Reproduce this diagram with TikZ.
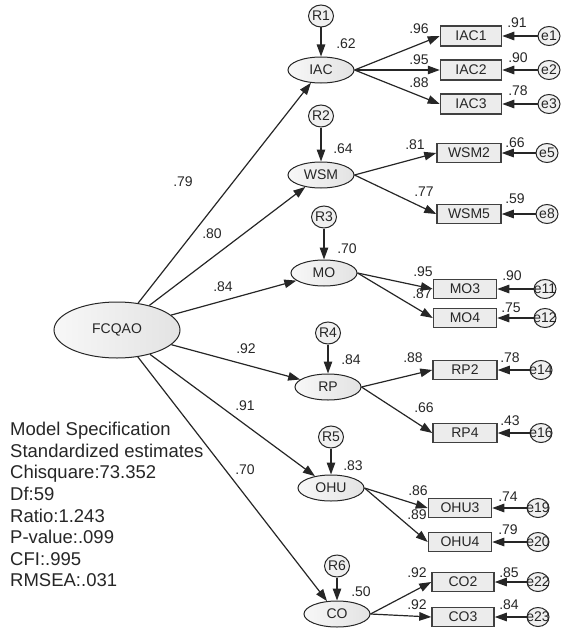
\documentclass[tikz,border=0pt]{standalone}
\usepackage{fontspec}
\setmainfont{Liberation Sans}
\usetikzlibrary{shapes.geometric,arrows.meta}
% text of fixed-size circles may overflow the circle
\newcommand\circtxt[1]{\makebox[0pt]{#1}}
\begin{document}
\begin{tikzpicture}[x=1pt,y=-1pt,
  every node/.style={text=black!85, font=\fontsize{14}{16}\selectfont},
  lat/.style={ellipse, draw=black!85, line width=1pt, left color=gray!6, right color=gray!22,
    minimum width=66pt, minimum height=26pt, inner sep=0pt},
  obs/.style={rectangle, draw=black!75, line width=1.5pt, fill=gray!15,
    minimum width=63pt, minimum height=19pt, inner sep=0pt},
  res/.style={ellipse, draw=black!85, line width=1pt, fill=gray!12,
    minimum width=25pt, minimum height=22pt, inner sep=0pt},
  err/.style={ellipse, draw=black!85, line width=1pt, fill=gray!12,
    minimum width=22pt, minimum height=19pt, inner sep=0pt},
  arr/.style={draw=black!85, line width=1.2pt, -{Triangle[length=12pt,width=8.5pt]}},
  coef/.style={inner sep=0pt}
]
\useasboundingbox (0,0) rectangle (560,634);

% second-order factor
\node[lat, minimum width=126pt, minimum height=56pt] (FCQAO) at (117,330) {FCQAO};

% first-order factors with their disturbances
\node[lat] (IAC) at (321,70) {IAC};
\node[res] (R1) at (321,16) {\circtxt{R1}};
\node[lat] (WSM) at (321,175) {WSM};
\node[res] (R2) at (321,116) {\circtxt{R2}};
\node[lat] (MO) at (324,273) {MO};
\node[res] (R3) at (324,217) {\circtxt{R3}};
\node[lat] (RP) at (328,387) {RP};
\node[res] (R4) at (328,333) {\circtxt{R4}};
\node[lat] (OHU) at (331,488) {OHU};
\node[res] (R5) at (331,437) {\circtxt{R5}};
\node[lat] (CO) at (337,614) {CO};
\node[res] (R6) at (337,566) {\circtxt{R6}};

% indicators
\node[obs, minimum width=61pt, minimum height=20pt] (IAC1) at (471,36) {IAC1};
\node[obs, minimum width=61pt, minimum height=20pt] (IAC2) at (471,70) {IAC2};
\node[obs, minimum width=61pt, minimum height=20pt] (IAC3) at (471,104) {IAC3};
\node[obs, minimum width=64pt] (WSM2) at (469,153) {WSM2};
\node[obs, minimum width=64pt] (WSM5) at (469,214) {WSM5};
\node[obs] (MO3) at (465,289) {MO3};
\node[obs] (MO4) at (465,318) {MO4};
\node[obs, minimum width=64pt] (RP2) at (465,370) {RP2};
\node[obs, minimum width=64pt] (RP4) at (465,433) {RP4};
\node[obs] (OHU3) at (460,508) {OHU3};
\node[obs] (OHU4) at (460,542) {OHU4};
\node[obs, minimum width=62pt] (CO2) at (463,582) {CO2};
\node[obs, minimum width=62pt] (CO3) at (463,617) {CO3};

% measurement errors
\node[err] (e1) at (549,36) {\circtxt{e1}};
\node[err] (e2) at (549,70) {\circtxt{e2}};
\node[err] (e3) at (549,104) {\circtxt{e3}};
\node[err] (e5) at (547,153) {\circtxt{e5}};
\node[err] (e8) at (547,214) {\circtxt{e8}};
\node[err] (e11) at (545,289) {\circtxt{e11}};
\node[err] (e12) at (545,318) {\circtxt{e12}};
\node[err] (e14) at (541,370) {\circtxt{e14}};
\node[err] (e16) at (541,433) {\circtxt{e16}};
\node[err] (e19) at (538,508) {\circtxt{e19}};
\node[err] (e20) at (538,542) {\circtxt{e20}};
\node[err] (e22) at (538,582) {\circtxt{e22}};
\node[err] (e23) at (538,617) {\circtxt{e23}};

% structural paths
\foreach \f in {IAC,WSM,MO,RP,OHU,CO} \draw[arr] (FCQAO) -- (\f);
\foreach \r/\f in {R1/IAC,R2/WSM,R3/MO,R4/RP,R5/OHU,R6/CO} \draw[arr] (\r) -- (\f);

% loadings
\foreach \f/\i in {IAC/IAC1,IAC/IAC2,IAC/IAC3,WSM/WSM2,WSM/WSM5,MO/MO3,MO/MO4,
                   RP/RP2,RP/RP4,OHU/OHU3,OHU/OHU4,CO/CO2,CO/CO3}
  \draw[arr] (\f.east) -- (\i.west);

% error paths
\foreach \e/\i in {e1/IAC1,e2/IAC2,e3/IAC3,e5/WSM2,e8/WSM5,e11/MO3,e12/MO4,
                   e14/RP2,e16/RP4,e19/OHU3,e20/OHU4,e22/CO2,e23/CO3}
  \draw[arr] (\e) -- (\i.east);

% standardized coefficients
\node[coef] (c1) at (183,182) {.79};
\node[coef] (c2) at (212,234) {.80};
\node[coef] (c3) at (223,287) {.84};
\node[coef] (c4) at (246,349) {.92};
\node[coef] (c5) at (245,406) {.91};
\node[coef] (c6) at (245,470) {.70};

\node[coef] (r1) at (346,44) {.62};
\node[coef] (r2) at (343,149) {.64};
\node[coef] (r3) at (347,249) {.70};
\node[coef] (r4) at (351,360) {.84};
\node[coef] (r5) at (353,466) {.83};
\node[coef] (r6) at (361,592) {.50};

\node[coef] (l1) at (419,29) {.96};
\node[coef] (l2) at (419,60) {.95};
\node[coef] (l3) at (419,83) {.88};
\node[coef] (l4) at (415,145) {.81};
\node[coef] (l5) at (424,192) {.77};
\node[coef] (l6) at (423,272) {.95};
\node[coef] (l7) at (422,294) {.87};
\node[coef] (l8) at (413,358) {.88};
\node[coef] (l9) at (424,408) {.66};
\node[coef] (l10) at (418,491) {.86};
\node[coef] (l11) at (417,515) {.89};
\node[coef] (l12) at (417,573) {.92};
\node[coef] (l13) at (417,605) {.92};

\node[coef] (s1) at (517,23) {.91};
\node[coef] (s2) at (518,58) {.90};
\node[coef] (s3) at (518,91) {.78};
\node[coef] (s4) at (515,143) {.66};
\node[coef] (s5) at (515,199) {.59};
\node[coef] (s6) at (512,276) {.90};
\node[coef] (s7) at (511,308) {.75};
\node[coef] (s8) at (510,358) {.78};
\node[coef] (s9) at (510,421) {.43};
\node[coef] (s10) at (508,497) {.74};
\node[coef] (s11) at (508,530) {.79};
\node[coef] (s12) at (509,573) {.85};
\node[coef] (s13) at (509,605) {.84};

% fit summary
\node[anchor=north west, align=left, inner sep=0pt, font=\fontsize{18.5}{21.6}\selectfont] (fit) at (10,422)
  {Model Specification\\Standardized estimates\\Chisquare:73.352\\Df:59\\Ratio:1.243\\P-value:.099\\CFI:.995\\RMSEA:.031};
\end{tikzpicture}
\end{document}
